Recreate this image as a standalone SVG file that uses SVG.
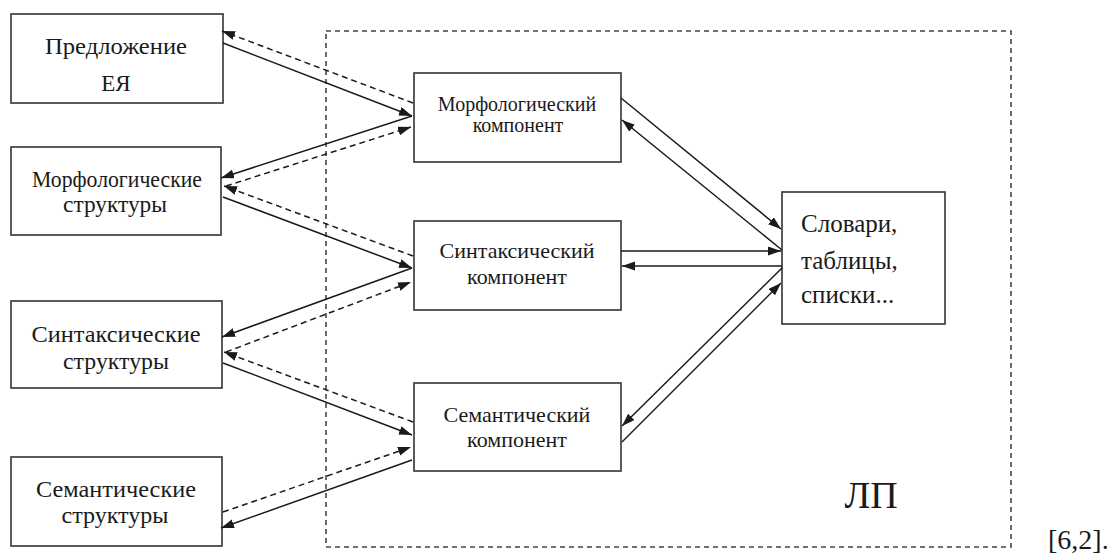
<svg xmlns="http://www.w3.org/2000/svg" width="1112" height="555" viewBox="0 0 1112 555">
<defs>
<marker id="ah" markerUnits="userSpaceOnUse" markerWidth="14" markerHeight="10" refX="13" refY="4.5" orient="auto">
<path d="M0,0 L13,4.5 L0,9 z" fill="#1a1a1a"/>
</marker>
</defs>
<style>
.box{fill:#fff;stroke:#333;stroke-width:1.6}
.t{font-family:"Liberation Serif","Times New Roman",serif;fill:#1a1a1a;text-anchor:middle}
.l{font-size:23px}
.k{font-size:25px}
.m{font-size:22px}
.s{font-size:20px}
.c{stroke:#1a1a1a;stroke-width:1.5;fill:none;marker-end:url(#ah)}
.d{stroke-dasharray:6,4}
.frame{fill:none;stroke:#444;stroke-width:1.6;stroke-dasharray:5,4}
</style>
<rect class="frame" x="326" y="31" width="685" height="516"/>
<g id="n1"><rect class="box" x="11" y="14" width="212" height="89"/><text class="t l" x="116" y="54" textLength="142" lengthAdjust="spacingAndGlyphs">Предложение</text><text class="t l" x="116" y="91">ЕЯ</text></g>
<g id="n2"><rect class="box" x="11" y="147" width="210" height="88"/><text class="t l" x="117" y="187" textLength="170" lengthAdjust="spacingAndGlyphs">Морфологические</text><text class="t l" x="115" y="212" textLength="104" lengthAdjust="spacingAndGlyphs">структуры</text></g>
<g id="n3"><rect class="box" x="11" y="301" width="211" height="87"/><text class="t l" x="116" y="342" textLength="169" lengthAdjust="spacingAndGlyphs">Синтаксические</text><text class="t l" x="116" y="369" textLength="106" lengthAdjust="spacingAndGlyphs">структуры</text></g>
<g id="n4"><rect class="box" x="11" y="457" width="211" height="89"/><text class="t l" x="116" y="497" textLength="160" lengthAdjust="spacingAndGlyphs">Семантические</text><text class="t l" x="115" y="523" textLength="107" lengthAdjust="spacingAndGlyphs">структуры</text></g>
<g id="morph"><rect class="box" x="414" y="73" width="207" height="89"/><text class="t s" x="517" y="111">Морфологический</text><text class="t s" x="518" y="132">компонент</text></g>
<g id="synt"><rect class="box" x="414" y="221" width="207" height="89"/><text class="t m" x="517" y="258">Синтаксический</text><text class="t m" x="517" y="284">компонент</text></g>
<g id="sem"><rect class="box" x="414" y="383" width="207" height="88"/><text class="t m" x="517" y="422">Семантический</text><text class="t m" x="517" y="447">компонент</text></g>
<g id="dict"><rect class="box" x="782" y="192" width="163" height="132"/><text class="t k" x="801" y="232" style="text-anchor:start">Словари,</text><text class="t k" x="801" y="269" style="text-anchor:start">таблицы,</text><text class="t k" x="801" y="303" style="text-anchor:start">списки...</text></g>
<text id="lp" class="t" x="871" y="508" style="font-size:38px">ЛП</text>
<text id="ref" class="t" x="1048" y="549" style="font-size:28px;text-anchor:start">[6,2].</text>
<g id="connectors">
<line class="c" x1="223" y1="43" x2="412" y2="116"/>
<line class="c d" x1="413" y1="103" x2="222" y2="31"/>
<line class="c" x1="412" y1="116" x2="221" y2="178"/>
<line class="c d" x1="226" y1="186" x2="411" y2="127"/>
<line class="c" x1="223" y1="197" x2="412" y2="268"/>
<line class="c d" x1="413" y1="256" x2="224" y2="186"/>
<line class="c" x1="412" y1="268" x2="222" y2="337"/>
<line class="c d" x1="226" y1="352" x2="411" y2="282"/>
<line class="c" x1="223" y1="363" x2="412" y2="435"/>
<line class="c d" x1="413" y1="422" x2="224" y2="352"/>
<line class="c d" x1="223" y1="512" x2="411" y2="447"/>
<line class="c" x1="412" y1="460" x2="221" y2="528"/>
<line class="c" x1="621" y1="98" x2="781" y2="229"/>
<line class="c" x1="782" y1="250" x2="622" y2="120"/>
<line class="c" x1="621" y1="251" x2="781" y2="251"/>
<line class="c" x1="782" y1="266" x2="622" y2="266"/>
<line class="c" x1="782" y1="268" x2="622" y2="426"/>
<line class="c" x1="622" y1="442" x2="781" y2="283"/>
</g>
</svg>
